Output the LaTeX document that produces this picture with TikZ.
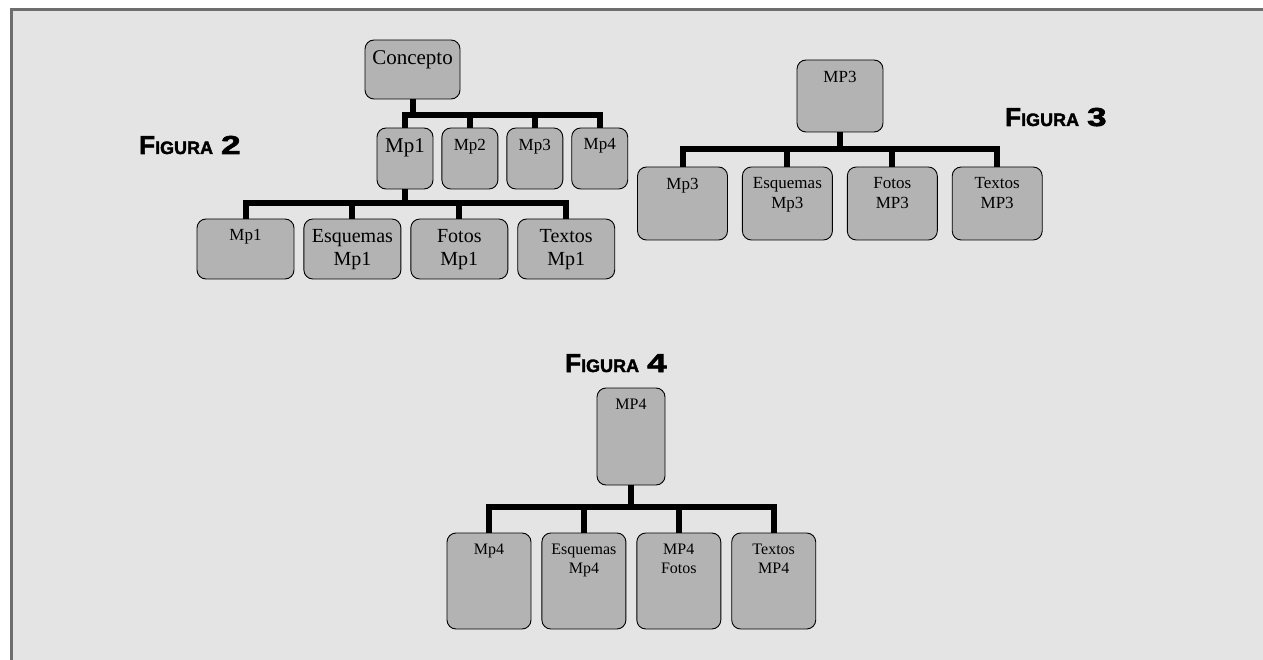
\documentclass[tikz,border=0pt]{standalone}
\usepackage{fontspec}
\setmainfont{Liberation Serif}
\newfontfamily\figfont[BoldFeatures={FakeBold=2}]{Liberation Sans}
\usetikzlibrary{positioning}

\definecolor{bggray}{RGB}{228,228,228}
\definecolor{boxgray}{RGB}{179,179,179}
\definecolor{framegray}{RGB}{110,110,110}

\newcommand{\fbig}{\fontsize{21}{24}\selectfont}
\newcommand{\fmid}{\fontsize{20}{23}\selectfont}
\newcommand{\fsma}{\fontsize{17}{20}\selectfont}
\newcommand{\ftin}{\fontsize{16}{19}\selectfont}
\newcommand{\figlabel}[1]{{\figfont\bfseries\fontsize{26}{26}\selectfont F\fontsize{18}{18}\selectfont IGURA\hspace{8pt}\fontsize{26}{26}\selectfont\scalebox{1.35}[1]{#1}}}

\begin{document}
\begin{tikzpicture}[x=1pt, y=-1pt,
    box/.style 2 args={draw, fill=boxgray, rounded corners=9pt, line width=0.9pt,
        inner sep=0pt, minimum width=#1, minimum height=#2},
    txt/.style={anchor=north, inner sep=0pt, yshift=-11pt, align=center},
    bar/.style={line width=6pt},
    title/.style={anchor=base west, inner sep=0pt}]

    \clip (0,0) rectangle (1263,660);
    \draw[framegray, line width=3pt, fill=bggray] (11,9.5) rectangle (1290,690);

    % Figura 2
    \node[title] (t2) at (139,154) {\figlabel{2}};
    \node[box={95pt}{59pt}, label={[txt, font=\fbig]north:Concepto}] (c2) at (412.5,69.5) {};
    \node[box={56pt}{61pt}, label={[txt, font=\fbig]north:Mp1}] (c2a) at (405,158.5) {};
    \node[box={56pt}{61pt}, label={[txt, font=\fsma]north:Mp2}] (c2b) [right=8pt of c2a] {};
    \node[box={56pt}{61pt}, label={[txt, font=\fsma]north:Mp3}] (c2c) [right=8pt of c2b] {};
    \node[box={56pt}{61pt}, label={[txt, font=\fsma]north:Mp4}] (c2d) [right=8pt of c2c] {};
    \node[box={97pt}{60pt}, label={[txt, font=\fsma]north:Mp1}] (c2e) at (245.5,249) {};
    \node[box={97pt}{60pt}, label={[txt, font=\fmid]north:{Esquemas\\Mp1}}] (c2f) [right=9pt of c2e] {};
    \node[box={97pt}{60pt}, label={[txt, font=\fmid]north:{Fotos\\Mp1}}] (c2g) [right=9pt of c2f] {};
    \node[box={97pt}{60pt}, label={[txt, font=\fmid]north:{Textos\\Mp1}}] (c2h) [right=9pt of c2g] {};
    \foreach \n in {c2a,c2b,c2c,c2d}
        \draw[bar] (c2.south) -- ++(0,16) -| (\n.north);
    \foreach \n in {c2e,c2f,c2g,c2h}
        \draw[bar] (c2a.south) -- ++(0,14) -| (\n.north);

    % Figura 3
    \node[title] (t3) at (1005,126) {\figlabel{3}};
    \node[box={86pt}{72pt}, label={[txt, font=\fsma]north:MP3}] (c3) at (840,96) {};
    \node[box={90pt}{73pt}, label={[txt, font=\fsma]north:Mp3}] (c3a) at (682.5,203.5) {};
    \node[box={90pt}{73pt}, label={[txt, font=\fsma]north:{Esquemas\\Mp3}}] (c3b) [right=14pt of c3a] {};
    \node[box={90pt}{73pt}, label={[txt, font=\fsma]north:{Fotos\\MP3}}] (c3c) [right=14pt of c3b] {};
    \node[box={90pt}{73pt}, label={[txt, font=\fsma]north:{Textos\\MP3}}] (c3d) [right=14pt of c3c] {};
    \foreach \n in {c3a,c3b,c3c,c3d}
        \draw[bar] (c3.south) -- ++(0,17) -| (\n.north);

    % Figura 4
    \node[title] (t4) at (565,372) {\figlabel{4}};
    \node[box={68pt}{97pt}, label={[txt, font=\ftin]north:MP4}] (c4) at (631,436.5) {};
    \node[box={84pt}{96pt}, label={[txt, font=\ftin]north:Mp4}] (c4a) at (489,581) {};
    \node[box={84pt}{96pt}, label={[txt, font=\ftin]north:{Esquemas\\Mp4}}] (c4b) [right=10pt of c4a] {};
    \node[box={84pt}{96pt}, label={[txt, font=\ftin]north:{MP4\\Fotos}}] (c4c) [right=10pt of c4b] {};
    \node[box={84pt}{96pt}, label={[txt, font=\ftin]north:{Textos\\MP4}}] (c4d) [right=10pt of c4c] {};
    \foreach \n in {c4a,c4b,c4c,c4d}
        \draw[bar] (c4.south) -- ++(0,22) -| (\n.north);
\end{tikzpicture}
\end{document}
